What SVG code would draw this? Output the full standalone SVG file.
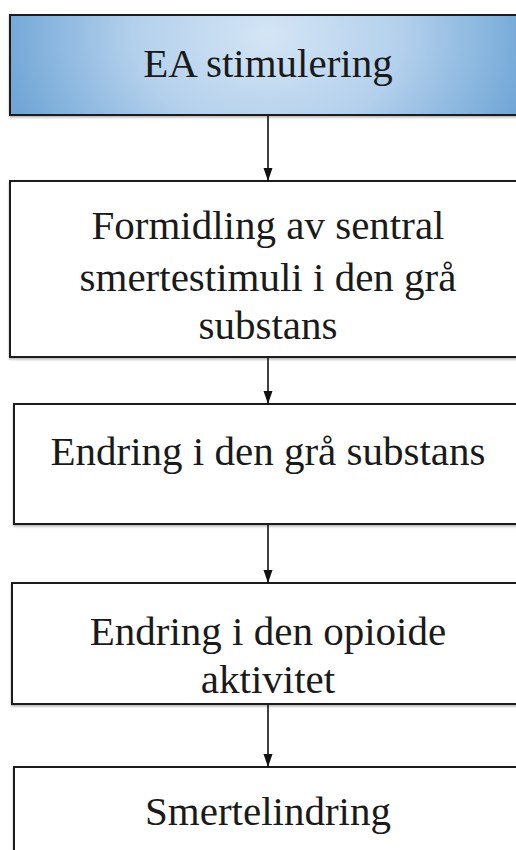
<svg xmlns="http://www.w3.org/2000/svg" width="516" height="850" viewBox="0 0 516 850">
<defs>
<radialGradient id="blue" gradientUnits="userSpaceOnUse" cx="268" cy="35" r="270" gradientTransform="translate(0,35) scale(1,0.75) translate(0,-35)">
<stop offset="0" stop-color="#d4e5f5"/>
<stop offset="0.5" stop-color="#b3d0ec"/>
<stop offset="1" stop-color="#6fa5d6"/>
</radialGradient>
<marker id="ah" markerWidth="14" markerHeight="10" refX="13" refY="5" orient="auto" markerUnits="userSpaceOnUse" viewBox="0 0 14 10">
<path d="M0,0.5 L13,5 L0,9.5 Z" fill="#111"/>
</marker>
<filter id="sh" x="-5%" y="-5%" width="110%" height="120%">
<feDropShadow dx="0" dy="1.5" stdDeviation="0.8" flood-color="#000" flood-opacity="0.3"/>
</filter>
</defs>
<style>
.box{fill:#fff;stroke:#1a1a1a;stroke-width:2;filter:url(#sh)}
.t{font-family:"Liberation Serif","Times New Roman",serif;font-size:41px;fill:#1a1a1a;text-anchor:middle}
.c{stroke:#111;stroke-width:1.6;fill:none;marker-end:url(#ah)}
</style>
<g id="n1">
<rect class="box" x="10" y="15" width="530" height="100" style="fill:url(#blue)"/>
<text class="t" x="268" y="77">EA stimulering</text>
</g>
<g id="n2">
<rect class="box" x="10" y="181" width="530" height="176"/>
<text class="t" x="268" y="239">Formidling av sentral</text>
<text class="t" x="268" y="291">smertestimuli i den grå</text>
<text class="t" x="268" y="339">substans</text>
</g>
<g id="n3">
<rect class="box" x="14" y="404" width="530" height="120"/>
<text class="t" x="268" y="465">Endring i den grå substans</text>
</g>
<g id="n4">
<rect class="box" x="12" y="583" width="530" height="121"/>
<text class="t" x="268" y="645">Endring i den opioide</text>
<text class="t" x="268" y="693">aktivitet</text>
</g>
<g id="n5">
<rect class="box" x="14" y="767" width="530" height="120"/>
<text class="t" x="268" y="825">Smertelindring</text>
</g>
<g id="connectors">
<line class="c" x1="268" y1="116" x2="268" y2="181"/>
<line class="c" x1="268" y1="358" x2="268" y2="404"/>
<line class="c" x1="268" y1="525" x2="268" y2="583"/>
<line class="c" x1="268" y1="705" x2="268" y2="767"/>
</g>
</svg>
